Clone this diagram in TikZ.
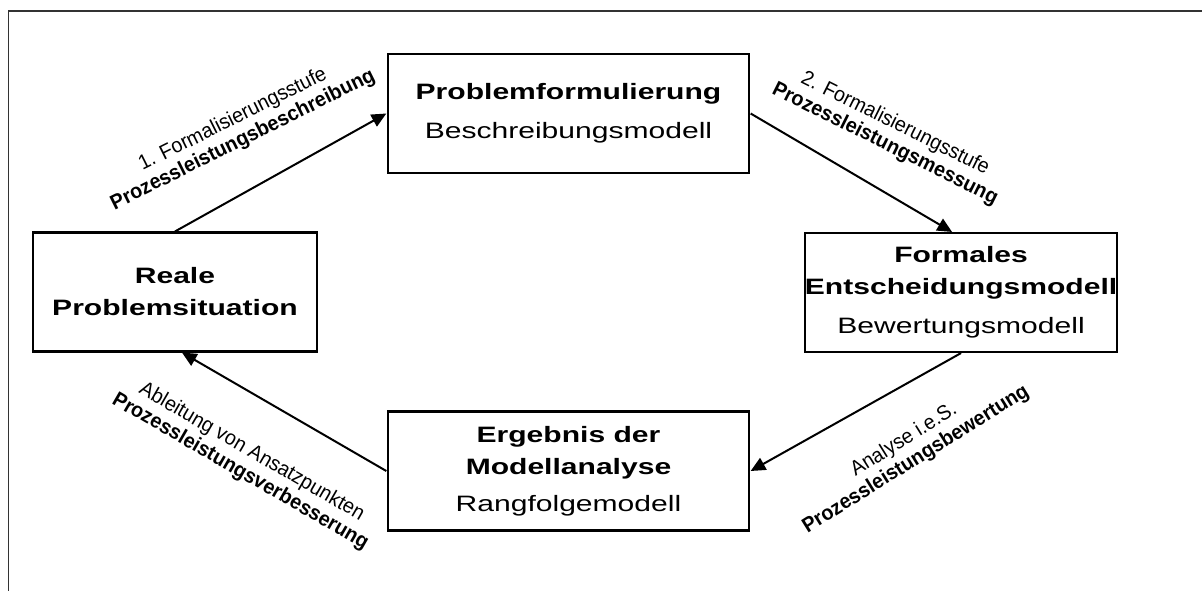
\documentclass[tikz,border=0pt]{standalone}
\usepackage{fontspec}
\setmainfont{Liberation Sans}
\newfontfamily\labfont[FakeStretch=0.95]{Liberation Sans}
\usetikzlibrary{arrows.meta,calc}
\begin{document}
\begin{tikzpicture}[x=0.75pt,y=-0.75pt,
  box/.style={draw, line width=1.8pt, align=center, inner sep=0pt,
    minimum height=89pt, font=\fontsize{16.7}{24}\selectfont},
  wide/.style={box, minimum width=200.6pt},
  narrow/.style={box, minimum width=157.8pt},
  flow/.style={-{Triangle[length=11pt,width=10pt]}, line width=1.5pt},
  lab/.style={align=center, inner sep=0pt, font=\labfont\fontsize{15.6}{17}\selectfont}]
\useasboundingbox (0,0) rectangle (1202,590);
% outer frame (open towards right and bottom)
\draw[line width=1.1pt, draw=black!80] (8.5,600) |- (1210,11);

% process stages, set in a horizontally widened frame
\begin{scope}[xscale=1.35, transform shape]
\node[wide] (prob) at (421.1,113.5)
  {\textbf{Problemformulierung}\\[5pt]Beschreibungsmodell};
\node[narrow] (reale) at (129.6,292)
  {\fontsize{16.7}{21}\selectfont\textbf{Reale}\\\textbf{Problemsituation}};
\node[narrow] (formal) at (711.9,292.5)
  {\textbf{Formales}\\\textbf{Entscheidungsmodell}\\[5pt]Bewertungsmodell};
\node[wide] (erg) at (421.1,471)
  {\textbf{Ergebnis der}\\\textbf{Modellanalyse}\\[4pt]Rangfolgemodell};
\end{scope}

% transitions
\draw[flow] (reale.north) -- (prob.west);
\draw[flow] (prob.east) -- ($(formal.north)+(-9,0)$);
\draw[flow] (formal.south) -- (erg.east);
\draw[flow] (erg.west) -- ($(reale.south)+(7,0)$);

% transition labels
\node[lab, rotate=26.5] (l1) at (238,130)
  {1. Formalisierungsstufe\\\textbf{Prozessleistungsbeschreibung}};
\node[lab, rotate=-26.5] (l2) at (890,134)
  {2. Formalisierungsstufe\\\textbf{Prozessleistungsmessung}};
\node[lab, rotate=32] (l3) at (910,450)
  {Analyse i.e.S.\\\textbf{Prozessleistungsbewertung}};
\node[lab, rotate=-30] (l4) at (246,462)
  {Ableitung von Ansatzpunkten\\\textbf{Prozessleistungsverbesserung}};
\end{tikzpicture}
\end{document}
